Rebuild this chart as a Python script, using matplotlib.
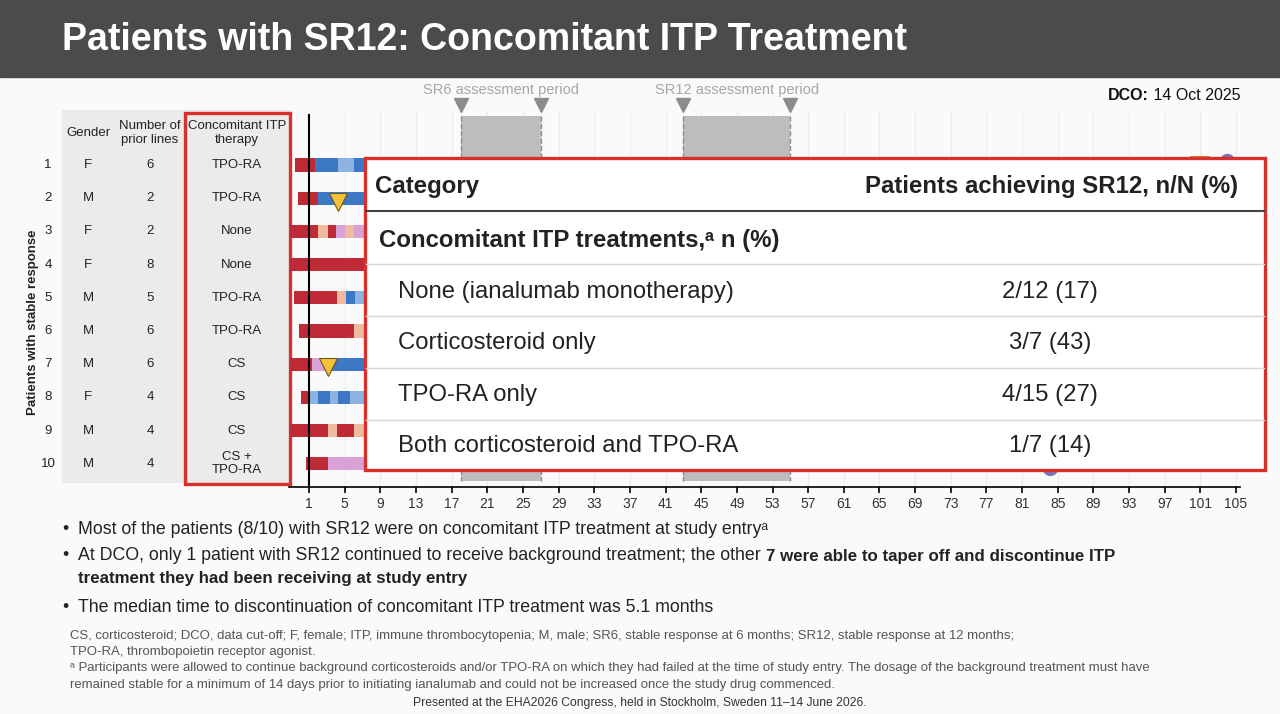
import matplotlib.pyplot as plt
from matplotlib.patches import Rectangle

plt.rcParams['font.family'] = ['Liberation Sans', 'DejaVu Sans']

title = "Patients with SR12: Concomitant ITP Treatment"

# left-hand patient table
patient_ids = [1, 2, 3, 4, 5, 6, 7, 8, 9, 10]
genders = ['F', 'M', 'F', 'F', 'M', 'M', 'M', 'F', 'M', 'M']
prior_lines = [6, 2, 2, 8, 5, 6, 6, 4, 4, 4]
therapies = ['TPO-RA', 'TPO-RA', 'None', 'None', 'TPO-RA', 'TPO-RA', 'CS', 'CS', 'CS', 'CS +\nTPO-RA']

# swimmer plot (weeks)
week_ticks = list(range(1, 106, 4))
sr6_period = (18, 27)
sr12_period = (43, 55)

# bar segments per patient: (start week, end week, colour key)
segments = {
    1: [(-0.6, 1.7, 'red'), (1.7, 4.2, 'blue'), (4.2, 6.1, 'lightblue'), (6.1, 99.8, 'blue')],
    2: [(-0.2, 2.0, 'red'), (2.0, 70, 'blue')],
    3: [(-1.1, 2.0, 'red'), (2.0, 3.1, 'peach'), (3.1, 4.0, 'red'), (4.0, 5.0, 'lilac'), (5.0, 6.0, 'peach'), (6.0, 60, 'lilac')],
    4: [(-1.1, 60, 'red')],
    5: [(-0.7, 4.1, 'red'), (4.1, 5.2, 'peach'), (5.2, 6.2, 'blue'), (6.2, 60, 'lightblue')],
    6: [(-0.1, 6.0, 'red'), (6.0, 60, 'peach')],
    7: [(-1.1, 1.3, 'red'), (1.3, 2.8, 'lilac'), (2.8, 60, 'blue')],
    8: [(0.1, 1.1, 'red'), (1.1, 2.0, 'lightblue'), (2.0, 3.3, 'blue'), (3.3, 4.3, 'lightblue'),
        (4.3, 5.6, 'blue'), (5.6, 60, 'lightblue')],
    9: [(-1.1, 3.1, 'red'), (3.1, 4.1, 'peach'), (4.1, 6.1, 'red'), (6.1, 60, 'peach')],
    10: [(0.7, 3.1, 'red'), (3.1, 84.0, 'lilac')],
}
orange_marks = {1: (99.8, 102.1)}
triangle_weeks = {2: 4.25, 7: 3.1}
dot_weeks = {1: 104.0, 10: 84.1}

colours = {'red': '#bf2a37', 'blue': '#3d78c4', 'lightblue': '#8db3e2',
           'peach': '#efbb9e', 'lilac': '#d8a2d6', 'orange': '#e0803c'}

# overlay table
categories = ['None (ianalumab monotherapy)', 'Corticosteroid only', 'TPO-RA only',
              'Both corticosteroid and TPO-RA']
n_sr12 = [2, 3, 4, 1]
n_total = [12, 7, 15, 7]

bullets = [
    "Most of the patients (8/10) with SR12 were on concomitant ITP treatment at study entry\u1d43",
    "At DCO, only 1 patient with SR12 continued to receive background treatment; the other",
    "The median time to discontinuation of concomitant ITP treatment was 5.1 months",
]
bullet2_bold = ["7 were able to taper off and discontinue ITP", "treatment they had been receiving at study entry"]

footnotes = [
    "CS, corticosteroid; DCO, data cut-off; F, female; ITP, immune thrombocytopenia; M, male; SR6, stable response at 6 months; SR12, stable response at 12 months;",
    "TPO-RA, thrombopoietin receptor agonist.",
    "\u1d43 Participants were allowed to continue background corticosteroids and/or TPO-RA on which they had failed at the time of study entry. The dosage of the background treatment must have",
    "remained stable for a minimum of 14 days prior to initiating ianalumab and could not be increased once the study drug commenced.",
]
congress = "Presented at the EHA2026 Congress, held in Stockholm, Sweden 11\u201314 June 2026."

RED = '#d8302c'
TXT = '#222222'
W, H = 1280, 714

fig = plt.figure(figsize=(12.8, 7.14), dpi=100, facecolor='#fafafa')

# background layer in pixel coordinates
bg = fig.add_axes([0, 0, 1, 1], zorder=0)
bg.set_xlim(0, W)
bg.set_ylim(H, 0)
bg.axis('off')

bg.add_patch(Rectangle((0, 0), W, 77, color='#4b4b4b'))
bg.text(62, 40, title, color='white', fontsize=27, fontweight='bold', va='center')

t = bg.text(1108, 96, "DCO:", fontsize=11.5, fontweight='bold', va='center', color='#111111')
bg.annotate(" 14 Oct 2025", xy=(1, 0.5), xycoords=t, va='center', fontsize=11.5, color='#111111')

# patient table
bg.add_patch(Rectangle((62, 110), 228, 372, color='#ebebeb', zorder=1))
hdr = dict(fontsize=9.5, ha='center', va='center', color=TXT, linespacing=1.15, zorder=3)
bg.text(88, 133, "Gender", **hdr)
bg.text(150, 133, "Number of\nprior lines", **hdr)
bg.text(237, 133, "Concomitant ITP\ntherapy", **hdr)
row_y = [165 + i * 33.2 for i in range(len(patient_ids))]
for i, y in enumerate(row_y):
    bg.text(48, y, str(patient_ids[i]), **hdr)
    bg.text(88, y, genders[i], **hdr)
    bg.text(150, y, str(prior_lines[i]), **hdr)
    bg.text(237, y, therapies[i], **hdr)
bg.add_patch(Rectangle((185, 113), 105, 371, fill=False, edgecolor=RED, lw=2.4, zorder=4))
bg.text(33, 322, "Patients with stable response", rotation=90, fontsize=9.5, fontweight='bold',
        ha='center', va='center', color=TXT)

# bullets
for y, b in zip([530, 556, 608], bullets):
    bg.text(62, y, "\u2022", fontsize=12.8, va='center', color=TXT)
    t = bg.text(78, y, b, fontsize=12.8, va='center', color=TXT)
    if y == 556:
        bg.annotate(bullet2_bold[0], xy=(1, 0.5), xycoords=t, xytext=(4, 0), textcoords='offset points',
                    va='center', fontsize=12.2, fontweight='bold', color=TXT)
        bg.text(78, 579, bullet2_bold[1], fontsize=12.2, fontweight='bold', va='center', color=TXT)

for y, f in zip([636, 652, 668, 685], footnotes):
    bg.text(70, y, f, fontsize=9.45, va='center', color='#555555')
bg.text(640, 703, congress, fontsize=8.7, ha='center', va='center', color='#333333')

# swimmer axes
ax = fig.add_axes([289.4 / W, (H - 487) / H, (1240.5 - 289.4) / W, 377 / H], zorder=5)
ax.patch.set_alpha(0)
ax.set_xlim(-1.2, 105.5)
ax.set_ylim(10.70, -0.657)
for s in ['top', 'right', 'left']:
    ax.spines[s].set_visible(False)
ax.spines['bottom'].set_linewidth(1.2)
ax.set_xticks(week_ticks)
ax.tick_params(axis='x', labelsize=10, length=4, width=1.2, labelcolor='#333333')
ax.set_yticks([])
for w in week_ticks:
    ax.axvline(w, color='#ececec', lw=0.8, zorder=0)

for lo, hi in [sr6_period, sr12_period]:
    ax.add_patch(Rectangle((lo, -0.476), hi - lo, 11.0, facecolor='#bdbdbd', edgecolor='none', zorder=1))
    for e in (lo, hi):
        ax.plot([e, e], [-0.476, 10.52], color='#8c8c8c', lw=1, ls='--', zorder=1)
        ax.plot(e, -0.807, marker='v', ms=10, color='#8c8c8c', clip_on=False, zorder=2)
ax.text(sum(sr6_period) / 2, -1.26, "SR6 assessment period", ha='center', va='center',
        fontsize=10.5, color='#a6a6a6')
ax.text(sum(sr12_period) / 2, -1.26, "SR12 assessment period", ha='center', va='center',
        fontsize=10.5, color='#a6a6a6')

ax.axvline(1, color='black', lw=1.5, ymax=(10.70 + 0.5) / (10.70 + 0.657), zorder=4)

for pid, segs in segments.items():
    for s0, s1, c in segs:
        ax.barh(pid, s1 - s0, left=s0, height=0.40, color=colours[c], zorder=3)
for pid, (s0, s1) in orange_marks.items():
    ax.barh(pid - 0.05, s1 - s0, left=s0, height=0.45, color=colours['orange'], zorder=3)
for pid, w in triangle_weeks.items():
    ax.plot(w, pid + 0.1, marker='v', ms=13, color='#f3c13a', mec='#6b5a1a', mew=0.8, zorder=5)
for pid, w in dot_weeks.items():
    ax.plot(w, pid + (0.12 if pid == 10 else -0.12), marker='o', ms=10, color='#7b73b8', zorder=5)

# overlay summary table
ov = fig.add_axes([0, 0, 1, 1], zorder=10)
ov.set_xlim(0, W)
ov.set_ylim(H, 0)
ov.axis('off')
ov.patch.set_alpha(0)
ov.add_patch(Rectangle((365, 158), 900, 312, facecolor='white', edgecolor=RED, lw=2.4))
ov.text(375, 186, "Category", fontsize=17.3, fontweight='bold', va='center', color=TXT)
ov.text(1238, 186, "Patients achieving SR12, n/N (%)", fontsize=17.3, fontweight='bold',
        ha='right', va='center', color=TXT)
ov.plot([366, 1264], [211, 211], color='#444444', lw=1.5)
ov.text(379, 240, "Concomitant ITP treatments,\u1d43 n (%)", fontsize=17.3, fontweight='bold',
        va='center', color=TXT)
for y in [264, 316, 368, 420]:
    ov.plot([366, 1264], [y, y], color='#d6d6d6', lw=1)
for i, cat in enumerate(categories):
    y = 292 + i * 51.3
    pct = round(100 * n_sr12[i] / n_total[i])
    ov.text(398, y, cat, fontsize=17.2, va='center', color=TXT)
    ov.text(1050, y, f"{n_sr12[i]}/{n_total[i]} ({pct})", fontsize=17.2, ha='center', va='center',
            color=TXT)

fig.savefig('out.png', dpi=100, facecolor=fig.get_facecolor())
